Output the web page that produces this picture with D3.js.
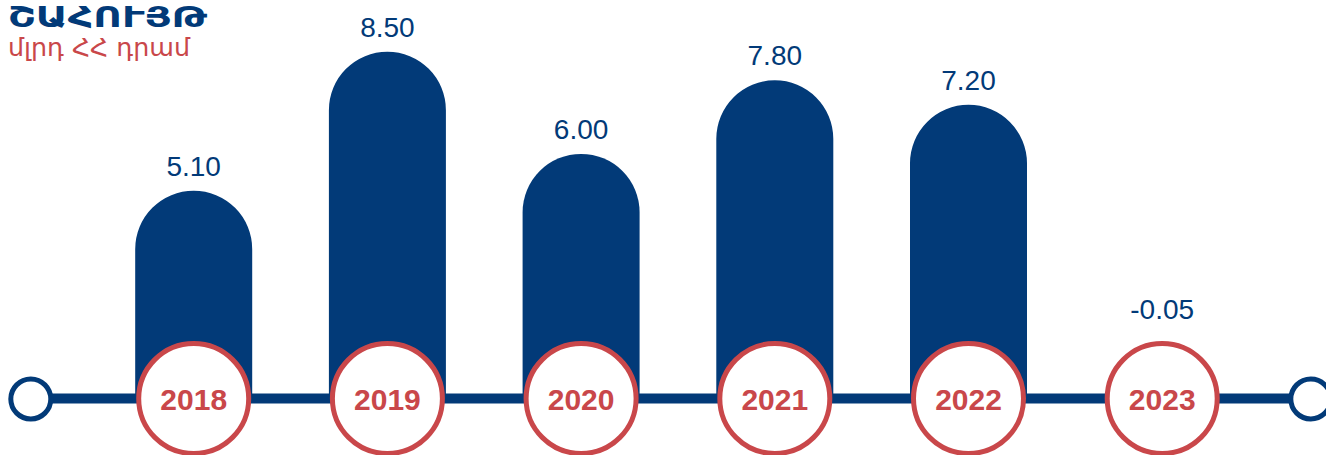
<!DOCTYPE html>
<html><head><meta charset="utf-8">
<script src="https://cdn.jsdelivr.net/npm/d3@7"></script>
<style>html,body{margin:0;padding:0;background:#fff;overflow:hidden}</style>
</head><body>
<svg id="c" width="1326" height="455"></svg>
<script>
const titleText = "ՇԱՀՈՒՅԹ";
const subtitleText = "մլրդ ՀՀ դրամ";
const years = ["2018","2019","2020","2021","2022","2023"];
const values = [5.10, 8.50, 6.00, 7.80, 7.20, -0.05];
const valueLabels = ["5.10","8.50","6.00","7.80","7.20","-0.05"];

const BLUE = "#023a78", RED = "#c9474a";
const svg = d3.select("#c");
const baseY = 399;
const x = d3.scalePoint().domain(years).range([193.7, 1162.2]);
const y = d3.scaleLinear().domain([0, 8.5]).range([399.2, 51.7]);
const bw = 117, r = bw/2;
const circR = 55, circSW = 5;

// bars
svg.append("g").selectAll("path").data(years.map((d,i)=>({year:d,v:values[i]})).filter(d=>d.v>0))
  .join("path")
  .attr("fill", BLUE)
  .attr("d", d => {
    const x0 = x(d.year) - r, top = y(d.v);
    return `M${x0},${baseY} L${x0},${top + r} A${r},${r} 0 0 1 ${x0 + bw},${top + r} L${x0 + bw},${baseY} Z`;
  });

// timeline
svg.append("line").attr("x1", 30.8).attr("x2", 1310.8).attr("y1", 398.5).attr("y2", 398.5)
  .attr("stroke", BLUE).attr("stroke-width", 10);
[30.8, 1310.8].forEach(cx => svg.append("circle").attr("cx", cx).attr("cy", 399).attr("r", 20)
  .attr("fill", "#fff").attr("stroke", BLUE).attr("stroke-width", 5));

// year circles
const g = svg.append("g").selectAll("g").data(years).join("g")
  .attr("transform", d => `translate(${x(d)},398.5)`);
g.append("circle").attr("r", circR).attr("fill", "#fff").attr("stroke", RED).attr("stroke-width", circSW);
g.append("text").text(d => d).attr("text-anchor", "middle").attr("y", 11)
  .attr("font-family", "Liberation Sans, Arial, sans-serif").attr("font-weight", "bold")
  .attr("font-size", 30).attr("fill", RED);

// value labels
const circTop = 398.5 - circR - circSW/2;
svg.append("g").selectAll("text").data(years).join("text")
  .attr("x", d => x(d))
  .attr("y", (d,i) => Math.min(y(Math.max(values[i],0)) - 15, circTop - 22))
  .attr("text-anchor", "middle")
  .attr("font-family", "Liberation Sans, Arial, sans-serif")
  .attr("font-size", 28).attr("fill", BLUE)
  .text((d,i) => valueLabels[i]);

// titles
svg.append("text").attr("x", 8).attr("y", 27).text(titleText)
  .attr("font-family", "DejaVu Sans, sans-serif").attr("font-weight", "bold")
  .attr("font-size", 28).attr("fill", BLUE)
  .attr("textLength", 199).attr("lengthAdjust", "spacingAndGlyphs");
svg.append("text").attr("x", 8).attr("y", 56).text(subtitleText)
  .attr("font-family", "DejaVu Sans, sans-serif")
  .attr("font-size", 24).attr("fill", RED)
  .attr("textLength", 182).attr("lengthAdjust", "spacingAndGlyphs");
</script>
</body></html>
